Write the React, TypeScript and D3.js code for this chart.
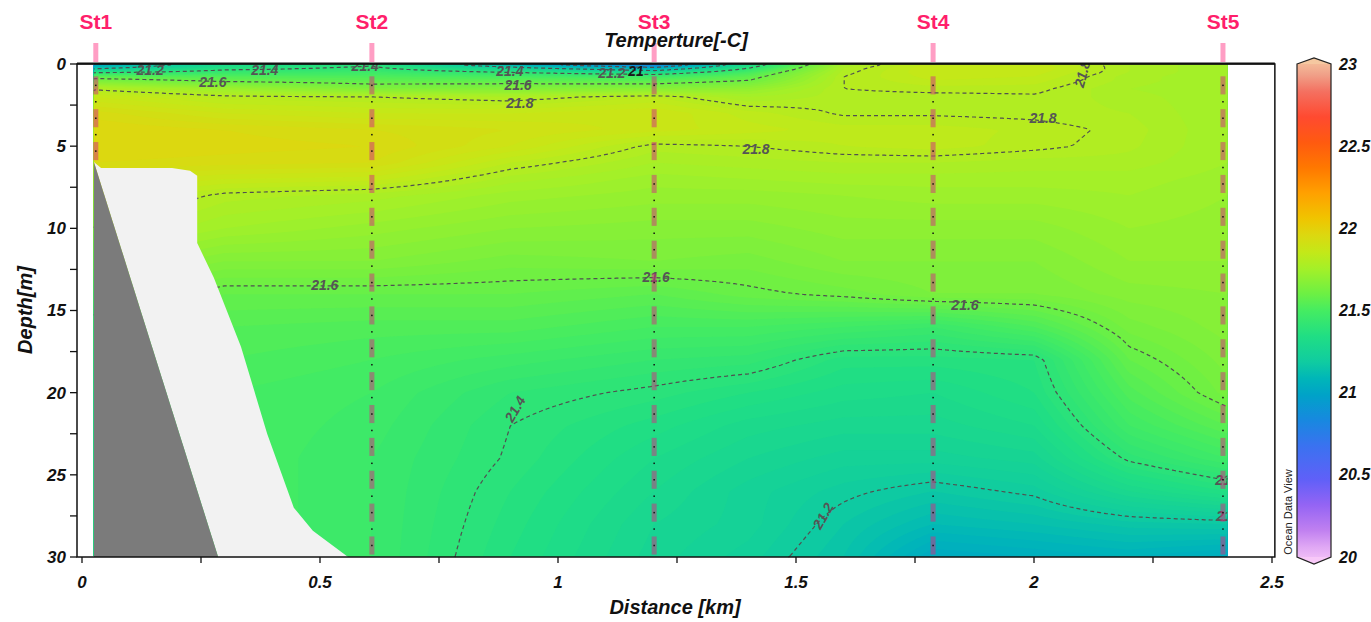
import { useMemo } from "react";
import * as d3 from "d3";

// axes
const xTickValues = [0, 0.25, 0.5, 0.75, 1, 1.25, 1.5, 1.75, 2, 2.25, 2.5];
const xTickLabels = [0, 0.5, 1, 1.5, 2, 2.5];
const yTickValues = [0, 2.5, 5, 7.5, 10, 12.5, 15, 17.5, 20, 22.5, 25, 27.5, 30];
const yTickLabels = [0, 5, 10, 15, 20, 25, 30];
const colorTickLabels = [20, 20.5, 21, 21.5, 22, 22.5, 23];

// stations
const stationNames = ["St1", "St2", "St3", "St4", "St5"];
const stationKm = [0.029, 0.609, 1.202, 1.788, 2.397];
const stationBottom = [6, 30, 30, 30, 30];
const sampleDepths = [1.3, 2.3, 3.3, 4.3, 5.3, 6.3, 7.3, 8.3, 9.3, 10.3, 11.3, 12.3, 13.3, 14.3, 15.3,
  16.3, 17.3, 18.3, 19.3, 20.3, 21.3, 22.3, 23.3, 24.3, 25.3, 26.3, 27.3, 28.3, 29.3];

// temperature section (columns at gridKm, rows at gridDepth)
const gridKm = [0.025, 0.3, 0.609, 0.9, 1.202, 1.4, 1.6, 1.788, 2.0, 2.2, 2.406];
const gridDepth = [0, 0.25, 0.5, 0.75, 1, 1.5, 2, 3, 4, 5, 6, 7, 8, 10, 12, 14, 16, 18, 20, 22, 24, 26, 28, 30];
const tSt1 = [21.0, 21.16, 21.38, 21.55, 21.64, 21.79, 21.86, 21.93, 21.96, 21.96, 21.94, 21.9, 21.86, 21.8, 21.72, 21.64, 21.58, 21.55, 21.52, 21.5, 21.5, 21.5, 21.5, 21.5];
const tK030 = [21.3, 21.36, 21.45, 21.53, 21.58, 21.73, 21.81, 21.88, 21.94, 21.95, 21.93, 21.86, 21.79, 21.74, 21.66, 21.58, 21.54, 21.52, 21.5, 21.5, 21.5, 21.5, 21.5, 21.5];
const tSt2 = [21.38, 21.42, 21.47, 21.52, 21.56, 21.65, 21.8, 21.86, 21.92, 21.94, 21.92, 21.85, 21.77, 21.71, 21.66, 21.58, 21.53, 21.5, 21.48, 21.47, 21.46, 21.46, 21.46, 21.46];
const tK090 = [21.05, 21.25, 21.4, 21.5, 21.56, 21.66, 21.78, 21.86, 21.9, 21.88, 21.82, 21.77, 21.73, 21.68, 21.63, 21.58, 21.53, 21.47, 21.42, 21.4, 21.395, 21.38, 21.37, 21.36];
const tSt3 = [20.75, 21.05, 21.3, 21.48, 21.55, 21.67, 21.82, 21.88, 21.87, 21.79, 21.76, 21.73, 21.71, 21.67, 21.64, 21.56, 21.5, 21.44, 21.39, 21.35, 21.32, 21.3, 21.28, 21.27];
const tK140 = [21.3, 21.4, 21.5, 21.56, 21.6, 21.7, 21.76, 21.83, 21.85, 21.8, 21.77, 21.74, 21.71, 21.67, 21.63, 21.59, 21.5, 21.43, 21.36, 21.31, 21.28, 21.25, 21.25, 21.23];
const tK160 = [21.76, 21.78, 21.79, 21.8, 21.8, 21.8, 21.79, 21.795, 21.83, 21.82, 21.78, 21.75, 21.72, 21.69, 21.66, 21.61, 21.48, 21.37, 21.33, 21.29, 21.25, 21.21, 21.18, 21.16];
const tSt4 = [21.85, 21.86, 21.86, 21.85, 21.84, 21.81, 21.79, 21.795, 21.83, 21.83, 21.78, 21.75, 21.73, 21.69, 21.66, 21.64, 21.46, 21.37, 21.32, 21.29, 21.25, 21.18, 21.12, 21.04];
const tK200 = [21.85, 21.86, 21.85, 21.84, 21.83, 21.81, 21.795, 21.79, 21.815, 21.81, 21.77, 21.75, 21.73, 21.69, 21.66, 21.64, 21.52, 21.38, 21.36, 21.32, 21.27, 21.21, 21.14, 21.06];
const tK220 = [21.78, 21.78, 21.78, 21.77, 21.77, 21.76, 21.77, 21.78, 21.79, 21.785, 21.77, 21.75, 21.74, 21.72, 21.7, 21.67, 21.63, 21.58, 21.53, 21.48, 21.41, 21.3, 21.17, 21.08];
const tSt5 = [21.74, 21.74, 21.74, 21.74, 21.74, 21.74, 21.74, 21.74, 21.74, 21.74, 21.74, 21.73, 21.72, 21.71, 21.7, 21.68, 21.67, 21.65, 21.63, 21.56, 21.48, 21.36, 21.18, 21.05];
const tempColumns = [tSt1, tK030, tSt2, tK090, tSt3, tK140, tK160, tSt4, tK200, tK220, tSt5];

// ODV style palette
const colorStops = [20, 20.1, 20.2, 20.35, 20.5, 20.7, 20.85, 21, 21.1, 21.2, 21.35, 21.5, 21.6, 21.75, 21.85, 21.95, 22.05, 22.2, 22.35, 22.5, 22.65, 22.8, 22.9, 23];
const colorHex = ["#f8c8f8", "#e0a8f4", "#c080f0", "#9464f4", "#6060f8", "#3a72f0", "#1888e0", "#00a2c8", "#00b6b8", "#10cca0", "#20de84", "#44ec62", "#6cf044", "#a4f028", "#c4e818", "#dcd810", "#f0c400", "#ffa000", "#ff7800", "#ff5a10", "#ff4a30", "#f47060", "#f0a088", "#f5c8a0"];

// bottom and no-data area [km, m]
const seabed = [[0.025, 5.96], [0.286, 30], [0.025, 30]];
const noData = [[0.025, 5.96], [0.04, 6.33], [0.189, 6.33], [0.227, 6.5], [0.242, 6.8], [0.242, 10.9], [0.277, 13.0],
  [0.334, 17.2], [0.389, 22.5], [0.445, 27.0], [0.485, 28.4], [0.559, 30], [0.286, 30]];

const contourLevels = [21, 21.2, 21.4, 21.6, 21.8];
const fillLevels = d3.range(20.6, 22.01, 0.02);

// contour labels: [km, depth, text, angle, anchor]
const contourLabels: [number, number, string, number, string][] = [
  [0.143, 0.4, "21.2", 0, "middle"], [0.384, 0.35, "21.4", 0, "middle"], [0.275, 1.1, "21.6", 0, "middle"],
  [0.595, 0.15, "21.4", 0, "middle"], [0.899, 0.42, "21.4", 0, "middle"], [0.916, 1.3, "21.6", 0, "middle"],
  [0.92, 2.35, "21.8", 0, "middle"], [1.113, 0.55, "21.2", 0, "middle"], [2.019, 3.3, "21.8", 0, "middle"],
  [1.416, 5.15, "21.8", 0, "middle"], [0.51, 13.45, "21.6", 0, "middle"], [1.206, 12.95, "21.6", 0, "middle"],
  [1.855, 14.65, "21.6", 0, "middle"], [0.91, 21.0, "21.4", -60, "middle"], [1.557, 27.5, "21.2", -60, "middle"],
  [2.381, 25.3, "21.4", 0, "start"], [2.383, 27.5, "21.2", 0, "start"], [2.094, 1.4, "21.8", -75, "start"],
];

const axisFont = "'Liberation Sans Narrow', 'Liberation Sans', Arial, sans-serif";
const titleFont = "'Liberation Sans', Arial, sans-serif";

export default function App() {
  const x = d3.scaleLinear([0, 2.5], [82, 1272]);
  const y = d3.scaleLinear([0, 30], [64, 557]);
  const cY = d3.scaleLinear([20, 23], [557, 64]);
  const color = d3.scaleLinear<string>(colorStops, colorHex).interpolate(d3.interpolateRgb).clamp(true);
  const frameL = x(-0.0105), frameR = x(2.506);
  const dataL = x(gridKm[0]), dataR = x(gridKm[gridKm.length - 1]);

  const field = useMemo(() => {
    const step = 2;
    const y0 = y(0), y1 = y(30);
    const nx = Math.ceil((dataR - dataL) / step), ny = Math.ceil((y1 - y0) / step);
    const sx = (dataR - dataL) / nx, sy = (y1 - y0) / ny;
    const cols = tempColumns.map(c => d3.scaleLinear(gridDepth, c).clamp(true));
    const values = new Array(nx * ny);
    for (let j = 0; j < ny; j++) {
      const d = y.invert(y0 + (j + 0.5) * sy);
      const row = d3.scaleLinear(gridKm, cols.map(s => s(d))).clamp(true);
      for (let i = 0; i < nx; i++) values[j * nx + i] = row(x.invert(dataL + (i + 0.5) * sx));
    }
    const px = (p: number[]) => `${(dataL + p[0] * sx).toFixed(1)},${(y0 + p[1] * sy).toFixed(1)}`;
    const proj = d3.geoTransform({
      point(a: number, b: number) { (this as any).stream.point(dataL + a * sx, y0 + b * sy); }
    });
    const path = d3.geoPath(proj);
    const bands = d3.contours().size([nx, ny]).thresholds(fillLevels)(values)
      .map(b => ({ d: path(b as any) || "", fill: color(b.value + 0.01) }));

    // contour lines without the grid border
    const onEdge = (p: number[]) => p[0] <= 0 || p[0] >= nx || p[1] <= 0 || p[1] >= ny;
    const lines = d3.contours().size([nx, ny]).thresholds(contourLevels)(values).map(c => {
      let d = "";
      for (const poly of c.coordinates) for (const ring of poly) {
        let pen = false;
        for (let k = 1; k < ring.length; k++) {
          const a = ring[k - 1], b = ring[k];
          if (onEdge(a) && onEdge(b)) { pen = false; continue; }
          if (!pen) { d += "M" + px(a); pen = true; }
          d += "L" + px(b);
        }
      }
      return { d, value: c.value };
    });
    return { bands, lines };
  }, []);

  const poly = (pts: number[][]) => "M" + pts.map(p => `${x(p[0])},${y(p[1])}`).join("L") + "Z";
  const barW = 5;
  const capTop = `M1297,${cY(23)}L1314,${cY(23) - 6}L1331,${cY(23)}Z`;
  const capBottom = `M1297,${cY(20)}L1314,${cY(20) + 7}L1331,${cY(20)}Z`;
  const barOutline = `M1297,${cY(23)}L1314,${cY(23) - 6}L1331,${cY(23)}L1331,${cY(20)}L1314,${cY(20) + 7}L1297,${cY(20)}Z`;

  return (
    <svg width={1371} height={622} style={{ position: "absolute", left: 0, top: 0, background: "#fff" }}>
      <defs>
        <clipPath id="dataClip">
          <rect x={dataL} y={y(0)} width={dataR - dataL} height={y(30) - y(0)} />
        </clipPath>
        <linearGradient id="cbar" x1="0" y1="1" x2="0" y2="0">
          {colorStops.map((v, i) => (
            <stop key={i} offset={(v - 20) / 3} stopColor={colorHex[i]} />
          ))}
        </linearGradient>
      </defs>

      {/* temperature field */}
      <g>
        {field.bands.map((b, i) => <path key={i} d={b.d} fill={b.fill} stroke="none" />)}
      </g>
      <g fill="none" stroke="#505050" strokeWidth={1.2} strokeDasharray="4,3">
        {field.lines.map((l, i) => <path key={i} d={l.d} />)}
      </g>

      {/* masks */}
      <path d={poly(noData)} fill="#f2f2f2" />
      <path d={poly(seabed)} fill="#7b7b7b" />

      {/* contour labels */}
      <g clipPath="url(#dataClip)" fontFamily={titleFont} fontStyle="italic" fontWeight="bold" fontSize={14} fill="#555">
        {contourLabels.map(([k, d, t, a, anc], i) => (
          <text key={i} x={x(k)} y={y(d)} dy="0.35em" textAnchor={anc}
            transform={a ? `rotate(${a},${x(k)},${y(d)})` : undefined}>{t}</text>
        ))}
        <text x={x(1.164)} y={y(0.45)} dy="0.35em" textAnchor="middle" fill="#1a1a1a">21</text>
      </g>

      {/* stations */}
      {stationKm.map((k, s) => (
        <g key={s}>
          <text x={x(k)} y={29} textAnchor="middle" fontFamily={titleFont} fontWeight="bold" fontSize={21} fill="#ff1f6b">{stationNames[s]}</text>
          <rect x={x(k) - 2.5} y={43} width={5} height={19} fill="#ff9ec4" />
          {sampleDepths.filter(d => d < stationBottom[s]).map((d, i) => (
            <g key={i}>
              {i % 2 === 0 && (
                <rect x={x(k) - barW / 2} y={y(d - 0.55)} width={barW} height={y(1.1) - y(0)} fill="rgb(212,44,128)" opacity={0.5} />
              )}
              <rect x={x(k) - 0.75} y={y(d) - 0.75} width={1.5} height={1.5} fill="#111" />
            </g>
          ))}
        </g>
      ))}

      {/* frame */}
      <rect x={frameL} y={y(0)} width={frameR - frameL} height={y(30) - y(0)} fill="none" stroke="#111" strokeWidth={1.5} />
      <line x1={frameL} x2={frameR} y1={y(0) - 0.5} y2={y(0) - 0.5} stroke="#111" strokeWidth={2} />

      {/* axes */}
      <g stroke="#111" strokeWidth={1.3}>
        {xTickValues.map((v, i) => <line key={i} x1={x(v)} x2={x(v)} y1={y(30)} y2={y(30) + 6} />)}
        {yTickValues.map((v, i) => <line key={i} x1={frameL - 7} x2={frameL} y1={y(v)} y2={y(v)} />)}
      </g>
      <g fontFamily={axisFont} fontStyle="italic" fontWeight="bold" fontSize={17} fill="#111">
        {xTickLabels.map((v, i) => (
          <text key={i} x={x(v)} y={588} textAnchor="middle">{v}</text>
        ))}
        {yTickLabels.map((v, i) => (
          <text key={i} x={66} y={y(v)} dy="0.35em" textAnchor="end">{v}</text>
        ))}
      </g>
      <g fontFamily={titleFont} fontStyle="italic" fontWeight="bold" fontSize={20} fill="#111">
        <text x={675} y={614} textAnchor="middle">Distance [km]</text>
        <text transform="translate(32,310) rotate(-90)" textAnchor="middle">Depth[m]</text>
        <text x={676} y={47} textAnchor="middle">Temperture[-C]</text>
      </g>

      {/* colour bar */}
      <path d={barOutline} fill="url(#cbar)" />
      <path d={capTop} fill={color(23)} />
      <path d={capBottom} fill={color(20)} />
      <path d={barOutline} fill="none" stroke="#222" strokeWidth={1.2} />
      <g fontFamily={axisFont} fontStyle="italic" fontWeight="bold" fontSize={16} fill="#111">
        {colorTickLabels.map((v, i) => (
          <text key={i} x={1339} y={cY(v)} dy="0.35em">{v}</text>
        ))}
      </g>
      <text transform="translate(1292,512) rotate(-90)" textAnchor="middle" fontFamily={titleFont} fontSize={11} fill="#222">Ocean Data View</text>
    </svg>
  );
}
